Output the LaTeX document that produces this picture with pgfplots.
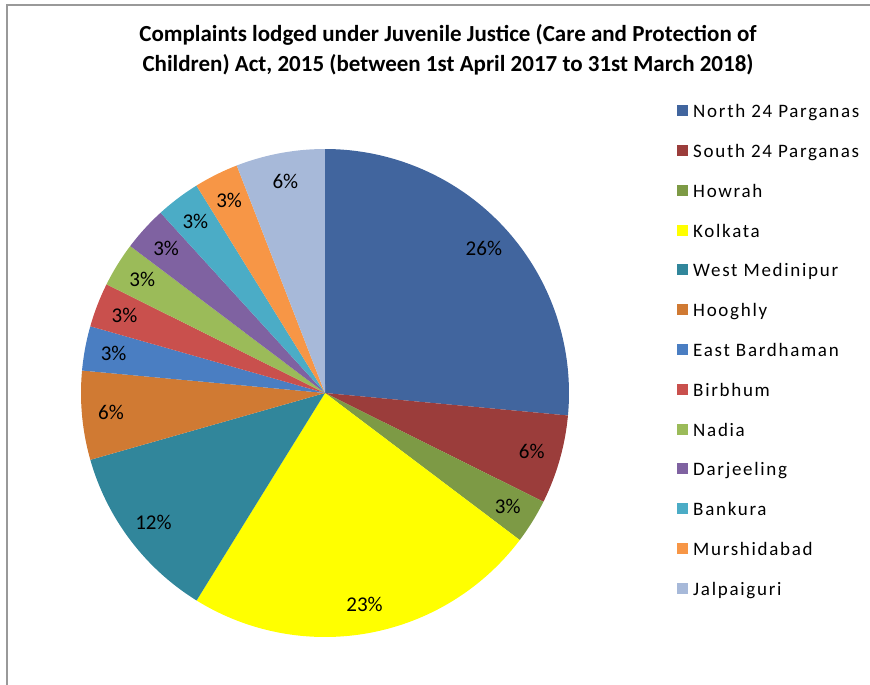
\documentclass[border=0pt]{standalone}
\usepackage{fontspec}
\setmainfont{Carlito}
\usepackage{pgfplots}
\usepackage{pgfplotstable}
\pgfplotsset{compat=1.18}

\definecolor{c1}{HTML}{41659E}
\definecolor{c2}{HTML}{9B3D3B}
\definecolor{c3}{HTML}{7D9A45}
\definecolor{c4}{HTML}{FFFF00}
\definecolor{c5}{HTML}{31869B}
\definecolor{c6}{HTML}{D07A33}
\definecolor{c7}{HTML}{4A7EC2}
\definecolor{c8}{HTML}{C9504D}
\definecolor{c9}{HTML}{9BBB59}
\definecolor{c10}{HTML}{7F62A1}
\definecolor{c11}{HTML}{4BACC6}
\definecolor{c12}{HTML}{F79646}
\definecolor{c13}{HTML}{A7B9D9}

% complaints per district, 1 Apr 2017 - 31 Mar 2018 (n = count, lab = label shown)
\pgfplotstableread[col sep=comma,row sep=\\]{
name,n,lab,col\\
North 24 Parganas,9,26,c1\\
South 24 Parganas,2,6,c2\\
Howrah,1,3,c3\\
Kolkata,8,23,c4\\
West Medinipur,4,12,c5\\
Hooghly,2,6,c6\\
East Bardhaman,1,3,c7\\
Birbhum,1,3,c8\\
Nadia,1,3,c9\\
Darjeeling,1,3,c10\\
Bankura,1,3,c11\\
Murshidabad,1,3,c12\\
Jalpaiguri,2,6,c13\\
}\pietable

\newcommand\pctfont{\fontsize{21}{24}\selectfont}
\newcommand\legfont{\fontsize{19}{22}\selectfont\addfontfeature{LetterSpace=9}}

\begin{document}
\begin{tikzpicture}
\begin{axis}[
    x=1pt, y=1pt,
    xmin=0, xmax=870, ymin=0, ymax=685,
    y dir=reverse,
    hide axis, clip=false,
    at={(0,0)}, anchor=south west,
    title={Complaints lodged under Juvenile Justice (Care and Protection of\\Children) Act, 2015 (between 1st April 2017 to 31st March 2018)},
    title style={at={(axis cs:448,56)}, anchor=center, align=center,
        font=\fontsize{23}{30}\selectfont\bfseries, inner sep=0pt},
    legend cell align=left,
    legend style={draw=none, fill=none, at={(axis cs:674,103)}, anchor=north west,
        font=\legfont, row sep=24.3pt, column sep=5pt,
        nodes={inner sep=0pt, text height=10pt, text depth=3pt}},
    legend image code/.code={\fill[#1] (0pt,-2pt) rectangle (11pt,9pt);},
]
\pgfplotstablegetrowsof{\pietable}
\pgfmathtruncatemacro\lastrow{\pgfplotsretval-1}
\xdef\total{0}
\pgfplotsforeachungrouped \i in {0,...,\lastrow}{%
    \pgfplotstablegetelem{\i}{n}\of\pietable
    \pgfmathsetmacro\tmp{\total+\pgfplotsretval}
    \xdef\total{\tmp}
}
\xdef\angstart{90}
\pgfplotsforeachungrouped \i in {0,...,\lastrow}{%
    \pgfplotstablegetelem{\i}{n}\of\pietable \let\val\pgfplotsretval
    \pgfplotstablegetelem{\i}{lab}\of\pietable \let\pct\pgfplotsretval
    \pgfplotstablegetelem{\i}{col}\of\pietable \let\col\pgfplotsretval
    \pgfplotstablegetelem{\i}{name}\of\pietable \let\nm\pgfplotsretval
    \pgfmathsetmacro\angend{\angstart-\val/\total*360}
    \pgfmathsetmacro\angmid{(\angstart+\angend)/2}
    \pgfmathsetmacro\lx{325+215*cos(\angmid)}
    \pgfmathsetmacro\ly{393-215*sin(\angmid)}
    \edef\doslice{%
        \noexpand\addplot[fill=\col, draw=none, domain=\angend:\angstart,
            samples=80, variable=\noexpand\t]
            ({325+244*cos(\noexpand\t)},{393-244*sin(\noexpand\t)})
            -- (axis cs:325,393) -- cycle;
        \noexpand\addlegendentry{\nm}
        \noexpand\node[font=\noexpand\pctfont] at (axis cs:\lx,\ly) {\pct\noexpand\%};
    }
    \doslice
    \xdef\angstart{\angend}
}
\draw[gray!80, line width=1.5pt] (axis cs:7,685) -- (axis cs:7,5) -- (axis cs:870,5);
\end{axis}
\pgfresetboundingbox
\useasboundingbox (0,0) rectangle (870pt,685pt);
\end{tikzpicture}
\end{document}
